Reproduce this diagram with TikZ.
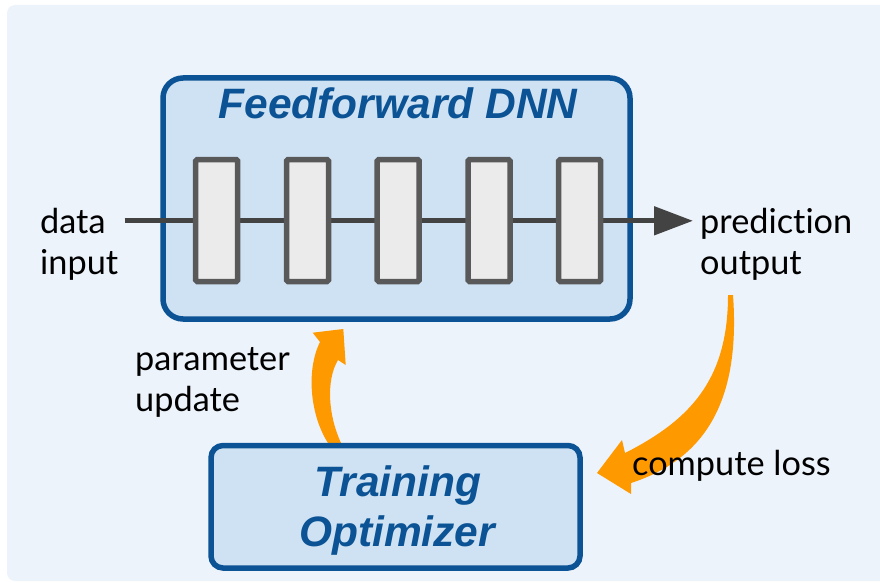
\documentclass[tikz,border=0pt]{standalone}
\usepackage{fontspec}
\setmainfont{Lato}[Ligatures=NoCommon]
\newfontfamily\titlefont{Liberation Sans}
\usetikzlibrary{arrows.meta}

\definecolor{panelbg}{HTML}{EDF3FB}
\definecolor{boxfill}{HTML}{CFE2F3}
\definecolor{boxline}{HTML}{0B5394}
\definecolor{layerfill}{HTML}{EBEBEB}
\definecolor{layerline}{HTML}{595959}
\definecolor{flowline}{HTML}{434343}
\definecolor{loopcol}{HTML}{FF9900}

\tikzset{
  block/.style={draw=boxline, fill=boxfill, line width=5.5pt},
  layerbox/.style={draw=layerline, fill=layerfill, line width=5.5pt, rounded corners=1.5pt,
    minimum width=42pt, minimum height=122pt, inner sep=0pt},
  flow/.style={draw=flowline, line width=5pt,
    -{Triangle[length=39pt,width=28pt]}},
  title/.style={font=\titlefont\bfseries\itshape\fontsize{42.5}{50}\selectfont,
    text=boxline, inner sep=0pt},
  label/.style={font=\fontsize{34.3}{41}\selectfont, text=black, inner sep=0pt, anchor=base west},
  loop/.style={fill=loopcol, draw=none},
}

\begin{document}
\begin{tikzpicture}[x=1pt, y=-1pt]
  \useasboundingbox (0,0) rectangle (880,583);
  % background panel
  \fill[panelbg, rounded corners=8pt] (7,5) rectangle (900,581);

  % network container
  \path[block, rounded corners=20pt] (163,78) rectangle (630,319);
  \node[title, anchor=base] (dnntitle) at (398,118) {Feedforward DNN};

  % data path through the layers
  \coordinate (src) at (124.6,220.8);
  \coordinate (dst) at (693,220.8);
  \draw[flow] (src) -- (dst);
  \foreach \i/\x in {1/216.7, 2/307.5, 3/398.2, 4/489, 5/579.7}
    \node[layerbox] (layer\i) at (\x,220.5) {};

  % loss arrow: output -> optimizer
  \path[loop] (728,295)
    .. controls (728,380) and (690,420) .. (625,453)
    -- (622,440) -- (597,473) -- (631,494) -- (631,483)
    .. controls (702,460) and (741,405) .. (733,295) -- cycle;

  % update arrow: optimizer -> network
  \path[loop] (328,443)
    .. controls (310,415) and (306,370) .. (320,342)
    -- (312.7,332.7) -- (343.3,329) -- (345.7,365) -- (338,360)
    .. controls (326,380) and (328,415) .. (341,443) -- cycle;

  % input / output labels
  \node[label] (datal) at (40,233.5) {data};
  \node[label] (inputl) at (40,274.5) {input};
  \node[label] (predl) at (700,233.5) {prediction};
  \node[label] (outl) at (700,274.5) {output};
  \node[label] (paraml) at (135,370) {parameter};
  \node[label] (updl) at (135,411) {update};
  \node[label] (lossl) at (632,475) {compute loss};

  % optimizer block
  \path[block, rounded corners=12pt] (211,445.5) rectangle (580,568);
  \node[title, anchor=base] (trainl) at (398,496) {Training};
  \node[title, anchor=base] (optl) at (397,546.5) {Optimizer};
\end{tikzpicture}
\end{document}
